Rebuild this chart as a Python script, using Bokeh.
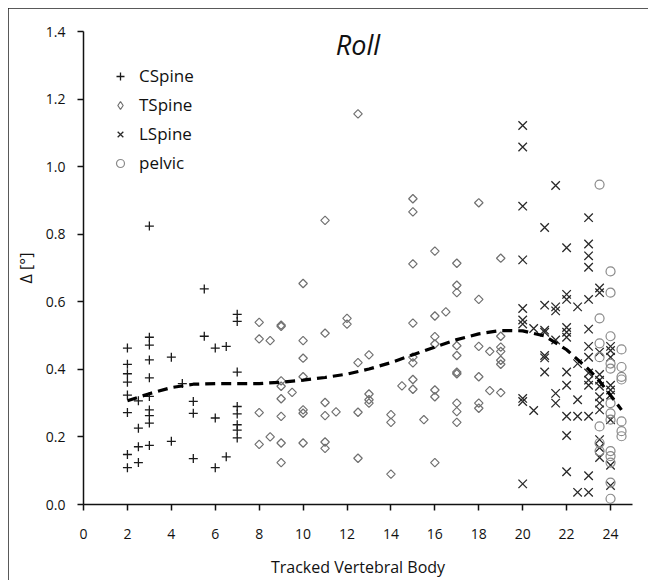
import numpy as np
from bokeh.plotting import figure
from bokeh.models import Range1d, FixedTicker, Label, Legend, LegendItem, NumeralTickFormatter
from bokeh.embed import file_html
from bokeh.resources import INLINE

# ---- data (x = tracked vertebral body, values = delta roll in degrees) ----
cspine = {
    2: [0.463, 0.415, 0.387, 0.362, 0.324, 0.272, 0.148, 0.109],
    2.5: [0.307, 0.226, 0.171, 0.124],
    3: [0.824, 0.495, 0.472, 0.428, 0.375, 0.320, 0.280, 0.263, 0.241, 0.175],
    4: [0.436, 0.187],
    4.5: [0.358],
    5: [0.305, 0.270, 0.136],
    5.5: [0.638, 0.498],
    6: [0.463, 0.256, 0.109],
    6.5: [0.468, 0.141],
    7: [0.563, 0.542, 0.392, 0.290, 0.268, 0.236, 0.220, 0.197],
}
tspine = {
    8: [0.539, 0.490, 0.272, 0.178],
    8.5: [0.485, 0.200],
    9: [0.531, 0.527, 0.366, 0.350, 0.313, 0.261, 0.182, 0.124],
    9.5: [0.332],
    10: [0.654, 0.485, 0.433, 0.378, 0.280, 0.270, 0.182],
    11: [0.841, 0.507, 0.302, 0.263, 0.185, 0.166],
    11.5: [0.274],
    12: [0.551, 0.534],
    12.5: [1.156, 0.420, 0.273, 0.137],
    13: [0.443, 0.327, 0.310, 0.300],
    14: [0.266, 0.243, 0.090],
    14.5: [0.351],
    15: [0.905, 0.866, 0.712, 0.537, 0.436, 0.419, 0.370, 0.341],
    15.5: [0.251],
    16: [0.750, 0.558, 0.497, 0.475, 0.339, 0.319, 0.124],
    16.5: [0.570],
    17: [0.714, 0.649, 0.627, 0.470, 0.441, 0.392, 0.387, 0.300, 0.275, 0.243],
    18: [0.893, 0.607, 0.468, 0.378, 0.300, 0.285],
    18.5: [0.453, 0.337],
    19: [0.729, 0.498, 0.466, 0.453, 0.427, 0.415, 0.331],
}
lspine = {
    20: [1.122, 1.058, 0.883, 0.724, 0.580, 0.546, 0.534, 0.314, 0.305, 0.061],
    20.5: [0.521, 0.278],
    21: [0.820, 0.590, 0.516, 0.510, 0.441, 0.434, 0.392],
    21.5: [0.944, 0.585, 0.573, 0.487, 0.329, 0.300],
    22: [0.760, 0.622, 0.607, 0.524, 0.510, 0.495, 0.392, 0.353, 0.261, 0.204, 0.097],
    22.5: [0.585, 0.417, 0.310, 0.261, 0.036],
    23: [0.849, 0.771, 0.736, 0.702, 0.607, 0.519, 0.468, 0.436, 0.389, 0.368, 0.353, 0.261, 0.085, 0.036],
    23.5: [0.641, 0.627, 0.451, 0.385, 0.368, 0.350, 0.319, 0.300, 0.280, 0.192, 0.168, 0.139],
    24: [0.468, 0.456, 0.436, 0.353, 0.339, 0.324, 0.251, 0.116, 0.056],
}
pelvic = {
    23.5: [0.947, 0.551, 0.477, 0.436, 0.231, 0.182, 0.158],
    24: [0.690, 0.627, 0.498, 0.417, 0.402, 0.300, 0.270, 0.251, 0.158, 0.143, 0.124, 0.065, 0.017],
    24.5: [0.459, 0.407, 0.378, 0.370, 0.246, 0.217, 0.202],
}
trend_x = [2, 3, 4, 5, 6, 7, 8, 9, 10, 11, 12, 13, 14, 15, 16, 17, 18, 19, 20, 21, 22, 23, 23.5, 24, 24.5]
trend_y = [0.307, 0.328, 0.346, 0.356, 0.358, 0.358, 0.358, 0.362, 0.368, 0.376, 0.386, 0.401, 0.420,
           0.443, 0.466, 0.488, 0.505, 0.515, 0.514, 0.499, 0.458, 0.400, 0.365, 0.323, 0.280]
x_ticks = [0, 2, 4, 6, 8, 10, 12, 14, 16, 18, 20, 22, 24]
y_ticks = [0.0, 0.2, 0.4, 0.6, 0.8, 1.0, 1.2, 1.4]


def flat(d):
    xs, ys = [], []
    for k, vals in d.items():
        for v in vals:
            xs.append(k)
            ys.append(v)
    return xs, ys


FONT = "Open Sans"

p = figure(width=640, height=572, x_range=Range1d(0, 25), y_range=Range1d(0, 1.4),
           output_backend="svg", toolbar_location=None,
           min_border_left=75, min_border_right=16, min_border_top=23, min_border_bottom=71)
p.styles = {"outline": "2px solid #222", "outline-offset": "-2px",
            "margin-left": "8px", "margin-top": "8px"}
p.outline_line_color = None
p.xgrid.grid_line_color = None
p.ygrid.grid_line_color = None
p.background_fill_color = "white"
p.border_fill_color = "white"

for ax in (p.xaxis[0], p.yaxis[0]):
    ax.axis_line_color = "#111"
    ax.axis_line_width = 1.5
    ax.major_tick_line_color = "#111"
    ax.major_tick_line_width = 1.5
    ax.major_tick_in = 0
    ax.major_tick_out = 6
    ax.minor_tick_line_color = None
    ax.major_label_text_font = FONT
    ax.major_label_text_font_size = "14px"
    ax.major_label_text_color = "#111"
    ax.axis_label_text_font = FONT
    ax.axis_label_text_font_size = "16px"
    ax.axis_label_text_font_style = "normal"
    ax.axis_label_text_color = "#111"

p.xaxis.ticker = FixedTicker(ticks=x_ticks)
p.yaxis.ticker = FixedTicker(ticks=y_ticks)
p.yaxis.formatter = NumeralTickFormatter(format="0.0")
p.xaxis.axis_label = "Tracked Vertebral Body"
p.yaxis.axis_label = "Δ [°]"
p.xaxis.major_label_standoff = 18
p.xaxis.axis_label_standoff = 14
p.yaxis.major_label_standoff = 12
p.yaxis.axis_label_standoff = 6

cx, cy = flat(cspine)
tx, ty = flat(tspine)
lx, ly = flat(lspine)
px_, py_ = flat(pelvic)

r_c = p.scatter(cx, cy, marker="cross", size=9, line_color="#1a1a1a", line_width=1.3)
r_t = p.scatter(tx, ty, marker="square", angle=np.pi / 4, size=6, fill_color=None,
                line_color="#707070", line_width=1.2)
r_l = p.scatter(lx, ly, marker="x", size=12, line_color="#2a2a2a", line_width=1.3)
r_p = p.scatter(px_, py_, marker="circle", size=9, fill_color=None,
                line_color="#8a8a8a", line_width=1.2)
p.line(trend_x, trend_y, line_color="black", line_width=3.2, line_dash="10 6")

# legend swatch for the diamond series (rotated squares are not rotated in legends)
r_t_key = p.scatter([np.nan], [np.nan], marker="diamond", size=11, fill_color=None,
                    line_color="#707070", line_width=1.2)

legend = Legend(items=[LegendItem(label="CSpine", renderers=[r_c]),
                       LegendItem(label="TSpine", renderers=[r_t_key]),
                       LegendItem(label="LSpine", renderers=[r_l]),
                       LegendItem(label="pelvic", renderers=[r_p])],
                location=(27, 330), orientation="vertical")
legend.margin = 0
legend.padding = 0
legend.border_line_color = None
legend.background_fill_alpha = 0
legend.label_text_font = FONT
legend.label_text_font_size = "17px"
legend.label_text_color = "#111"
legend.label_height = 20
legend.glyph_height = 20
legend.glyph_width = 20
legend.spacing = 6
legend.label_standoff = 9
p.add_layout(legend, "center")

title = Label(x=274.5, y=460, x_units="screen", y_units="screen", text="Roll",
              text_font=FONT, text_font_size="27px", text_font_style="italic",
              text_align="center", text_baseline="middle", text_color="#111")
p.add_layout(title)

open("out.html", "w").write(file_html(p, INLINE))
